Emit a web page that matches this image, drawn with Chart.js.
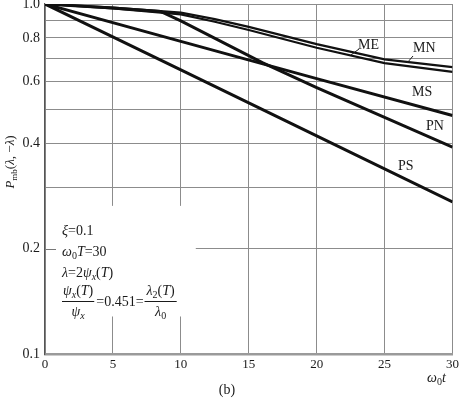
<!DOCTYPE html>
<html>
<head>
<meta charset="utf-8">
<script src="https://cdn.jsdelivr.net/npm/chart.js@4"></script>
<style>
  html, body { margin: 0; padding: 0; background: #fff; }
  #wrap { width: 462px; height: 399px; }
</style>
</head>
<body>
<div id="wrap"><canvas id="c" width="462" height="399"></canvas></div>
<script>
// values (x = w0*t, y = Pmb)
const xME = [0, 5, 10, 12.5, 15, 20, 25, 30];
const ME = [1.0, 0.976, 0.945, 0.905, 0.86, 0.768, 0.695, 0.66];
const xMN = [0, 5, 10, 12.5, 15, 20, 25, 30];
const MN = [1.0, 0.971, 0.934, 0.89, 0.843, 0.75, 0.678, 0.64];
const xMS = [0, 10, 20, 30];
const MS = [1.0, 0.782, 0.612, 0.48];
const xPN = [0, 5, 8.5, 10, 16, 20, 30];
const PN = [1.0, 0.974, 0.952, 0.895, 0.68, 0.577, 0.39];
const xPS = [0, 10, 20, 30];
const PS = [1.0, 0.648, 0.42, 0.272];

const yGridValues = [0.1, 0.2, 0.3, 0.4, 0.5, 0.6, 0.7, 0.8, 0.9, 1.0];
const yLabelValues = [0.1, 0.2, 0.4, 0.6, 0.8, 1.0];
const yLabelText = ['0.1', '0.2', '0.4', '0.6', '0.8', '1.0'];

const pts = (xs, ys) => xs.map((x, i) => ({ x: x, y: ys[i] }));

const serif = '"Liberation Serif", "DejaVu Serif", serif';
const ink = '#1a1a1a';

// draw a run of text pieces: [text, 'n' | 'i' | 'sub' | 'isub']
function rich(ctx, x, y, parts, size) {
  parts.forEach(p => {
    const t = p[0], st = p[1];
    let fs = size, dy = 0, it = '';
    if (st === 'i' || st === 'isub') it = 'italic ';
    if (st === 'sub' || st === 'isub') { fs = Math.round(size * 0.7); dy = size * 0.28; }
    ctx.font = it + fs + 'px ' + serif;
    ctx.fillText(t, x, y + dy);
    x += ctx.measureText(t).width;
  });
  return x;
}
function richWidth(ctx, parts, size) {
  let w = 0;
  parts.forEach(p => {
    const st = p[1];
    let fs = size, it = '';
    if (st === 'i' || st === 'isub') it = 'italic ';
    if (st === 'sub' || st === 'isub') fs = Math.round(size * 0.7);
    ctx.font = it + fs + 'px ' + serif;
    w += ctx.measureText(p[0]).width;
  });
  return w;
}

const boxPlugin = {
  id: 'box',
  beforeDatasetsDraw(chart) {
    const ctx = chart.ctx, xs = chart.scales.x, ys = chart.scales.y;
    ctx.save();
    ctx.fillStyle = '#fff';
    const l = chart.chartArea.left + 1;
    ctx.fillRect(l, ys.getPixelForValue(0.265), xs.getPixelForValue(11.1) - l, ys.getPixelForValue(0.128) - ys.getPixelForValue(0.265));
    // small tick kept at 0.2
    ctx.strokeStyle = '#777';
    ctx.lineWidth = 1;
    const y2 = Math.round(ys.getPixelForValue(0.2)) + 0.5;
    ctx.beginPath(); ctx.moveTo(l, y2); ctx.lineTo(l + 10, y2); ctx.stroke();
    ctx.restore();
  },
  afterDraw(chart) {
    const ctx = chart.ctx;
    ctx.save();
    ctx.fillStyle = ink;
    ctx.textBaseline = 'middle';
    ctx.textAlign = 'left';
    const fs = 14;

    // curve labels
    ctx.font = fs + 'px ' + serif;
    ctx.fillText('ME', 358, 45);
    ctx.fillText('MN', 413, 48);
    ctx.fillText('MS', 412, 92);
    ctx.fillText('PN', 426, 126);
    ctx.fillText('PS', 398, 166);
    ctx.strokeStyle = ink; ctx.lineWidth = 1;
    ctx.beginPath(); ctx.moveTo(359, 49); ctx.lineTo(351, 55); ctx.stroke();
    ctx.beginPath(); ctx.moveTo(413, 56); ctx.lineTo(407, 63); ctx.stroke();

    // parameter block
    rich(ctx, 62, 231, [['ξ', 'i'], ['=0.1', 'n']], fs);
    rich(ctx, 62, 252, [['ω', 'i'], ['0', 'sub'], ['T', 'i'], ['=30', 'n']], fs);
    rich(ctx, 62, 273, [['λ', 'i'], ['=2', 'n'], ['ψ', 'i'], ['x', 'isub'], ['(', 'n'], ['T', 'i'], [')', 'n']], fs);

    const numL = [['ψ', 'i'], ['x', 'isub'], ['(', 'n'], ['T', 'i'], [')', 'n']];
    const denL = [['ψ', 'i'], ['x', 'isub']];
    const wL = richWidth(ctx, numL, fs);
    rich(ctx, 63, 291, numL, fs);
    rich(ctx, 63 + (wL - richWidth(ctx, denL, fs)) / 2, 312, denL, fs);
    ctx.beginPath(); ctx.moveTo(62, 301.5); ctx.lineTo(64 + wL, 301.5); ctx.stroke();
    const xe = rich(ctx, 66 + wL, 302, [['=0.451=', 'n']], fs);
    const numR = [['λ', 'i'], ['2', 'sub'], ['(', 'n'], ['T', 'i'], [')', 'n']];
    const denR = [['λ', 'i'], ['0', 'sub']];
    const wR = richWidth(ctx, numR, fs);
    rich(ctx, xe + 3, 291, numR, fs);
    rich(ctx, xe + 3 + (wR - richWidth(ctx, denR, fs)) / 2, 312, denR, fs);
    ctx.beginPath(); ctx.moveTo(xe + 1, 301.5); ctx.lineTo(xe + 5 + wR, 301.5); ctx.stroke();

    // axis titles
    rich(ctx, 427, 378, [['ω', 'i'], ['0', 'sub'], ['t', 'i']], fs);
    ctx.font = '14px ' + serif;
    ctx.textAlign = 'center';
    ctx.fillText('(b)', 227, 390);

    ctx.translate(11, 162);
    ctx.rotate(-Math.PI / 2);
    ctx.textAlign = 'left';
    const yT = [['P', 'i'], ['mb', 'sub'], ['(', 'n'], ['λ', 'i'], [', −', 'n'], ['λ', 'i'], [')', 'n']];
    rich(ctx, -richWidth(ctx, yT, 13) / 2, 0, yT, 13);
    ctx.restore();
  }
};

const lineStyle = { borderColor: '#111', borderWidth: 3, pointRadius: 0, tension: 0, fill: false };

new Chart(document.getElementById('c'), {
  type: 'line',
  data: {
    datasets: [
      Object.assign({ label: 'ME', data: pts(xME, ME) }, lineStyle, { borderWidth: 2.2 }),
      Object.assign({ label: 'MN', data: pts(xMN, MN) }, lineStyle, { borderWidth: 2.2 }),
      Object.assign({ label: 'MS', data: pts(xMS, MS) }, lineStyle),
      Object.assign({ label: 'PN', data: pts(xPN, PN) }, lineStyle),
      Object.assign({ label: 'PS', data: pts(xPS, PS) }, lineStyle)
    ]
  },
  options: {
    responsive: false,
    animation: false,
    layout: { padding: { top: 4, right: 9, left: 0, bottom: 0 } },
    plugins: { legend: { display: false }, tooltip: { enabled: false } },
    scales: {
      x: {
        type: 'linear',
        min: 0,
        max: 30,
        ticks: { stepSize: 5, color: ink, padding: 3, font: { family: serif, size: 13 } },
        grid: { color: '#8c8c8c', lineWidth: 1, drawTicks: false },
        border: { color: '#9a9a9a', width: 2.5 },
        afterFit: s => { s.height = 45; }
      },
      y: {
        type: 'logarithmic',
        min: 0.1,
        max: 1.0,
        afterBuildTicks: s => { s.ticks = yGridValues.map(v => ({ value: v })); },
        ticks: {
          color: ink,
          padding: 5,
          font: { family: serif, size: 14 },
          autoSkip: false,
          callback: v => {
            const i = yLabelValues.findIndex(u => Math.abs(u - v) < 1e-6);
            return i >= 0 ? yLabelText[i] : '';
          }
        },
        grid: { color: '#8c8c8c', lineWidth: 1, drawTicks: false },
        border: { color: '#555', width: 1.2 },
        afterFit: s => { s.width = 45; s.paddingTop = 0; s.paddingBottom = 0; }
      }
    }
  },
  plugins: [boxPlugin]
});
</script>
</body>
</html>
